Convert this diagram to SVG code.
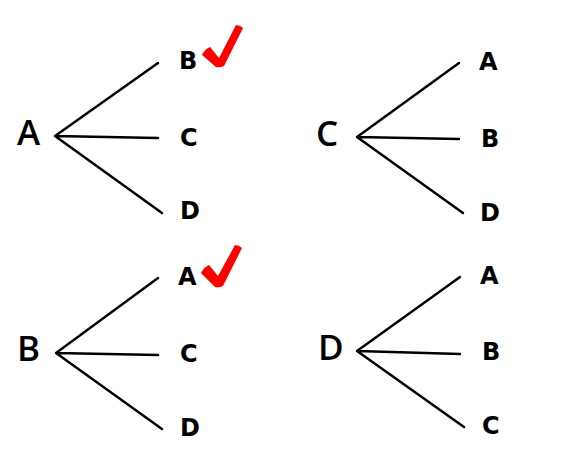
<svg xmlns="http://www.w3.org/2000/svg" width="569" height="459" viewBox="0 0 569 459">
<style>
.root{font-family:"Open Sans","DejaVu Sans",sans-serif;font-size:35px;font-weight:600;fill:#000}
.leaf{font-family:"DejaVu Sans",sans-serif;font-size:24px;font-weight:bold;fill:#000}
.edge{stroke:#000;stroke-width:2.5;fill:none;stroke-linecap:round}
.check{fill:#f00}
</style>
<rect width="569" height="459" fill="#fff"/>
<g id="connectors">
<path class="edge" d="M55,136 L158,63 M55,136 L158,138 M55,136 L162,213"/>
<path class="edge" d="M357,137 L459,63 M357,137 L459,139 M357,137 L463,213"/>
<path class="edge" d="M56,353 L158,278 M56,353 L158,355 M56,353 L162,429"/>
<path class="edge" d="M357,351 L460,277 M357,351 L460,354 M357,351 L464,427"/>
</g>
<g id="treeA">
<text class="root" x="17" y="145">A</text>
<text class="leaf" x="179" y="69">B</text>
<text class="leaf" x="180" y="146">C</text>
<text class="leaf" x="180" y="219">D</text>
<path class="check" d="M202,55 Q205,49 210,47 L219,58 L236,25 Q240,25 243,28 L224,66 Q220,68 216,67 Z"/>
</g>
<g id="treeC">
<text class="root" x="316" y="146">C</text>
<text class="leaf" x="479" y="70">A</text>
<text class="leaf" x="481" y="147">B</text>
<text class="leaf" x="480" y="221">D</text>
</g>
<g id="treeB">
<text class="root" x="17" y="361">B</text>
<text class="leaf" x="178" y="285">A</text>
<text class="leaf" x="180" y="362">C</text>
<text class="leaf" x="180" y="436">D</text>
<path class="check" d="M201,273 Q204,267 209,265 L218,276 L235,245 Q239,245 242,248 L223,286 Q219,288 215,287 Z"/>
</g>
<g id="treeD">
<text class="root" x="318" y="360">D</text>
<text class="leaf" x="480" y="284">A</text>
<text class="leaf" x="482" y="360">B</text>
<text class="leaf" x="482" y="434">C</text>
</g>
</svg>
